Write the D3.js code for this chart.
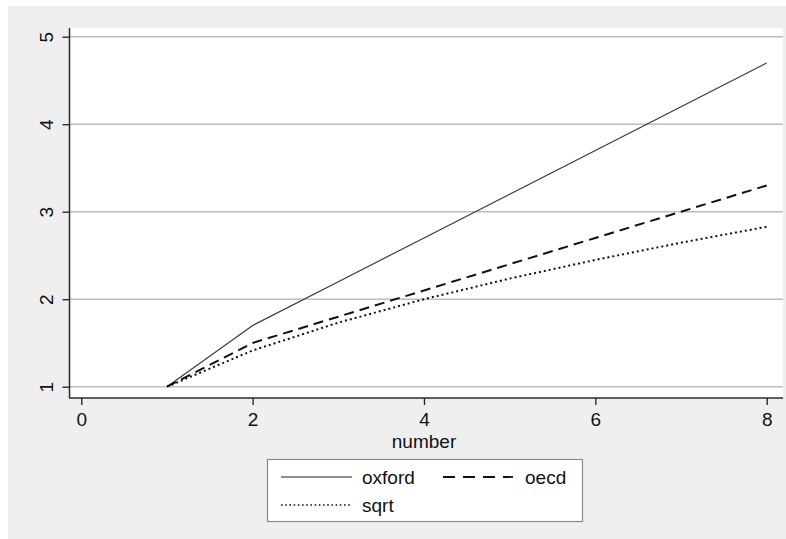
<!DOCTYPE html>
<html>
<head>
<meta charset="utf-8">
<script src="https://cdn.jsdelivr.net/npm/d3@7/dist/d3.min.js"></script>
<style>
  html, body { margin: 0; padding: 0; background: #ffffff; }
  svg { display: block; font-family: "Liberation Sans", Arial, sans-serif; }
</style>
</head>
<body>
<svg id="chart" width="786" height="539"></svg>
<script>
// Household size and equivalence scales
const number = [1, 2, 3, 4, 5, 6, 7, 8];
const oxford = [1, 1.7, 2.2, 2.7, 3.2, 3.7, 4.2, 4.7];
const oecd   = [1, 1.5, 1.8, 2.1, 2.4, 2.7, 3.0, 3.3];
const sqrt   = [1, 1.414, 1.732, 2, 2.236, 2.449, 2.646, 2.828];

const xTicks = [0, 2, 4, 6, 8];
const yTicks = [1, 2, 3, 4, 5];

const series = [
  { name: "oxford", values: oxford, stroke: "#3a3a3a", width: 1.2, dash: null,  legendDash: null },
  { name: "oecd",   values: oecd,   stroke: "#111111", width: 2,   dash: "10,6", legendDash: "12,8" },
  { name: "sqrt",   values: sqrt,   stroke: "#111111", width: 2,   dash: "2,3",  legendDash: "1.6,2.6" }
];

const FS = 19;
const svg = d3.select("#chart");

// outer graph region
svg.append("rect").attr("x", 8).attr("y", 6).attr("width", 778).attr("height", 533).attr("fill", "#efefef");

// plot region
const plot = { left: 70, right: 783, top: 28, bottom: 398 };
svg.append("rect")
  .attr("x", plot.left).attr("y", plot.top)
  .attr("width", plot.right - plot.left).attr("height", plot.bottom - plot.top)
  .attr("fill", "#ffffff");

const x = d3.scaleLinear().domain([0, 8]).range([81.3, 766.7]);
const y = d3.scaleLinear().domain([1, 5]).range([386.7, 36.7]);

// horizontal grid lines
svg.append("g").selectAll("line").data(yTicks).join("line")
  .attr("x1", plot.left).attr("x2", plot.right)
  .attr("y1", d => y(d)).attr("y2", d => y(d))
  .attr("stroke", "#bdbdbd").attr("stroke-width", 1.4);

// y axis
const yAxis = svg.append("g")
  .attr("transform", `translate(${plot.left - 0.5},0)`)
  .call(d3.axisLeft(y).tickValues(yTicks).tickSize(7).tickPadding(0).tickFormat(d3.format("d")));
yAxis.select(".domain").attr("d", `M0,${plot.top}V${plot.bottom}`).attr("stroke", "#2a2a2a").attr("stroke-width", 1.5);
yAxis.selectAll(".tick line").attr("stroke", "#2a2a2a").attr("stroke-width", 1.4);
yAxis.selectAll(".tick text")
  .attr("x", null).attr("dy", null)
  .attr("transform", "translate(-17,0) rotate(-90)")
  .attr("text-anchor", "middle")
  .attr("font-size", FS).attr("fill", "#111");

// x axis
const xAxis = svg.append("g")
  .attr("transform", `translate(0,${plot.bottom})`)
  .call(d3.axisBottom(x).tickValues(xTicks).tickSize(7).tickPadding(4).tickFormat(d3.format("d")));
xAxis.select(".domain").attr("d", `M${plot.left - 1},0H${plot.right}`).attr("stroke", "#2a2a2a").attr("stroke-width", 1.5);
xAxis.selectAll(".tick line").attr("stroke", "#2a2a2a").attr("stroke-width", 1.4);
xAxis.selectAll(".tick text").attr("dy", null).attr("y", 28).attr("font-size", FS).attr("fill", "#111");

svg.selectAll(".tick text").attr("font-family", "Liberation Sans, Arial, sans-serif");

// x axis title
svg.append("text")
  .attr("x", 424).attr("y", 448)
  .attr("text-anchor", "middle")
  .attr("font-size", FS).attr("fill", "#111")
  .text("number");

// series lines
const line = d3.line().x((d, i) => x(number[i])).y(d => y(d));
svg.append("g").selectAll("path").data(series).join("path")
  .attr("d", d => line(d.values))
  .attr("fill", "none")
  .attr("stroke", d => d.stroke)
  .attr("stroke-width", d => d.width)
  .attr("stroke-dasharray", d => d.dash);

// legend
const legend = svg.append("g");
legend.append("rect")
  .attr("x", 267.5).attr("y", 459.5).attr("width", 315).attr("height", 62)
  .attr("fill", "#ffffff").attr("stroke", "#8a8a8a").attr("stroke-width", 1.2);

const legendPos = [
  { sx: 281, lx: 352, tx: 362, ly: 477 },
  { sx: 443, lx: 513, tx: 525, ly: 477 },
  { sx: 281, lx: 352, tx: 362, ly: 505 }
];
series.forEach((s, i) => {
  const p = legendPos[i];
  legend.append("line")
    .attr("x1", p.sx).attr("x2", p.lx).attr("y1", p.ly).attr("y2", p.ly)
    .attr("stroke", s.name === "oxford" ? "#6a6a6a" : "#111")
    .attr("stroke-width", s.name === "sqrt" ? 1.5 : (s.name === "oecd" ? 1.8 : 1.4))
    .attr("stroke-dasharray", s.legendDash);
  legend.append("text")
    .attr("x", p.tx).attr("y", p.ly + 7)
    .attr("font-size", FS).attr("fill", "#111")
    .text(s.name);
});
</script>
</body>
</html>
